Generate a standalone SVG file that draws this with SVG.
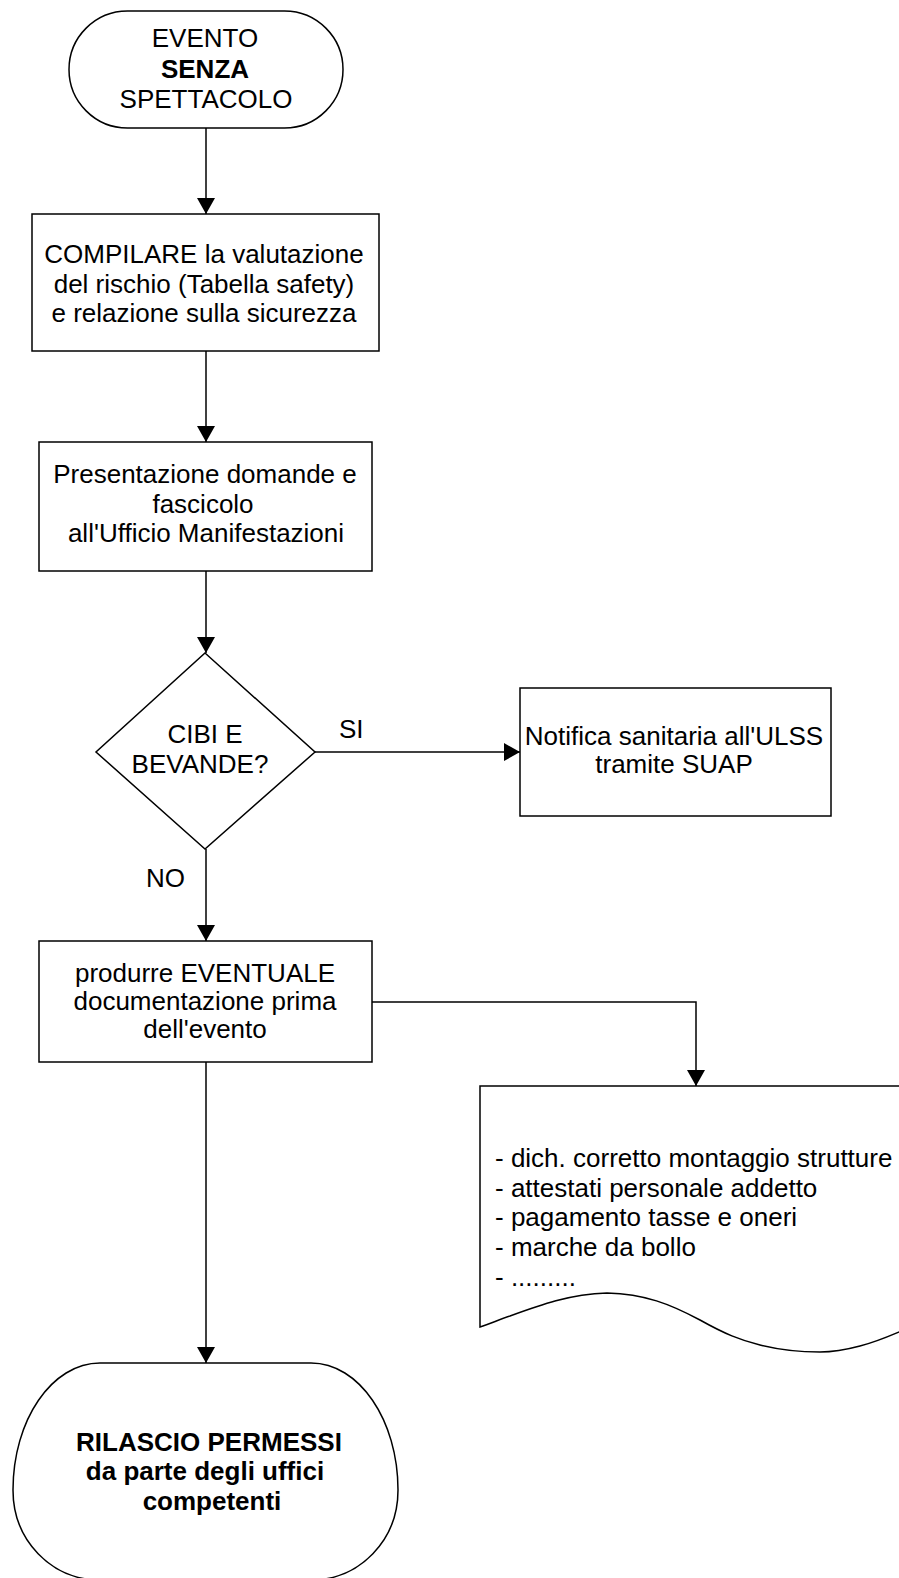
<svg xmlns="http://www.w3.org/2000/svg" width="899" height="1578" viewBox="0 0 899 1578">
<style>
.s{fill:#fff;stroke:#000;stroke-width:1.5}
.t{font-family:"Liberation Sans",Arial,sans-serif;font-size:26px;fill:#000;text-anchor:middle}
.l{font-family:"Liberation Sans",Arial,sans-serif;font-size:26px;fill:#000}
.b{font-weight:bold}
.c{fill:none;stroke:#000;stroke-width:1.5}
</style>
<defs>
<marker id="ah" markerUnits="userSpaceOnUse" markerWidth="18" markerHeight="18" viewBox="0 0 16 18" refX="16" refY="9" orient="auto">
<path d="M0,0 L16,9 L0,18 Z" fill="#000"/>
</marker>
</defs>
<rect width="899" height="1578" fill="#fff"/>

<g id="start">
<rect class="s" x="69" y="11" width="274" height="117" rx="58.5" ry="58.5"/>
<text class="t" x="205" y="47">EVENTO</text>
<text class="t b" x="205" y="78">SENZA</text>
<text class="t" x="206" y="108">SPETTACOLO</text>
</g>

<g id="compilare">
<rect class="s" x="32" y="214" width="347" height="137"/>
<text class="t" x="204" y="263">COMPILARE la valutazione</text>
<text class="t" x="204" y="293">del rischio (Tabella safety)</text>
<text class="t" x="204" y="322">e relazione sulla sicurezza</text>
</g>

<g id="presentazione">
<rect class="s" x="39" y="442" width="333" height="129"/>
<text class="t" x="205" y="483">Presentazione domande e</text>
<text class="t" x="203" y="513">fascicolo</text>
<text class="t" x="206" y="542">all'Ufficio Manifestazioni</text>
</g>

<g id="decisione">
<path class="s" d="M205,653 L315,752 L205,849 L96,752 Z"/>
<text class="t" x="205" y="743">CIBI E</text>
<text class="t" x="200" y="773">BEVANDE?</text>
</g>

<g id="notifica">
<rect class="s" x="520" y="688" width="311" height="128"/>
<text class="t" x="674" y="745">Notifica sanitaria all'ULSS</text>
<text class="t" x="674" y="773">tramite SUAP</text>
</g>

<g id="produrre">
<rect class="s" x="39" y="941" width="333" height="121"/>
<text class="t" x="205" y="982">produrre EVENTUALE</text>
<text class="t" x="205" y="1010">documentazione prima</text>
<text class="t" x="205" y="1038">dell'evento</text>
</g>

<g id="documento">
<path class="s" d="M480,1327 L480,1086 L930,1086 L930,1320 C905,1328 885,1340 860,1346 C845,1350 832,1352 820,1352 C800,1352 780,1350 760,1345 C740,1340 725,1334 700,1320 C670,1304 645,1294 607,1293 C570,1294 540,1305 510,1316 C498,1320 490,1324 480,1327 Z"/>
<text class="l" x="495" y="1167">- dich. corretto montaggio strutture</text>
<text class="l" x="495" y="1197">- attestati personale addetto</text>
<text class="l" x="495" y="1226">- pagamento tasse e oneri</text>
<text class="l" x="495" y="1256">- marche da bollo</text>
<text class="l" x="495" y="1286">- .........</text>
</g>

<g id="rilascio">
<path class="s" d="M100,1363 L311,1363 C359,1363 398,1420 398,1490 C398,1540 360,1580 311,1580 L100,1580 C51,1580 13,1540 13,1490 C13,1420 52,1363 100,1363 Z"/>
<text class="t b" x="209" y="1451">RILASCIO PERMESSI</text>
<text class="t b" x="205" y="1480">da parte degli uffici</text>
<text class="t b" x="212" y="1510">competenti</text>
</g>

<g id="connettori">
<line class="c" x1="206" y1="128" x2="206" y2="214" marker-end="url(#ah)"/>
<line class="c" x1="206" y1="351" x2="206" y2="442" marker-end="url(#ah)"/>
<line class="c" x1="206" y1="571" x2="206" y2="653" marker-end="url(#ah)"/>
<line class="c" x1="315" y1="752" x2="520" y2="752" marker-end="url(#ah)"/>
<line class="c" x1="206" y1="849" x2="206" y2="941" marker-end="url(#ah)"/>
<polyline class="c" points="372,1002 696,1002 696,1086" marker-end="url(#ah)"/>
<line class="c" x1="206" y1="1062" x2="206" y2="1363" marker-end="url(#ah)"/>
<text class="l" x="339" y="738">SI</text>
<text class="l" x="146" y="887">NO</text>
</g>
</svg>
